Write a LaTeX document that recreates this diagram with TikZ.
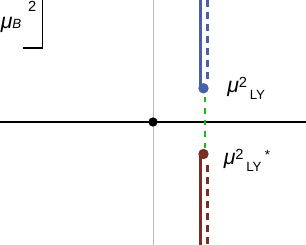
\documentclass[tikz,border=0pt]{standalone}
\usepackage{fontspec}
\setmainfont{Liberation Sans}
\usetikzlibrary{positioning}
\definecolor{lyblue}{RGB}{72,96,170}
\definecolor{lyred}{RGB}{122,46,38}
\definecolor{lygreen}{RGB}{25,185,25}
\definecolor{axisgray}{RGB}{185,185,185}
\newcommand{\bigmu}{{\fontsize{16}{18}\selectfont\itshape μ}}
\newcommand{\sqr}{\fontsize{11}{12}\selectfont 2}
\newcommand{\lysub}{\fontsize{10}{11}\selectfont LY}

\begin{document}
\begin{tikzpicture}[x=.75pt,y=-.75pt,
  dot/.style={circle,fill,inner sep=0pt,minimum size=7.8pt},
  lbl/.style={anchor=base west,inner sep=0pt},
  solidleg/.style={line width=2.5pt},
  dashleg/.style={line width=2pt,dash pattern=on 4.9pt off 4.1pt}]
\useasboundingbox (0,0) rectangle (306,245);
\coordinate (o) at (153,122);
\draw[axisgray,line width=.7pt] (o |- 0,0) -- (o |- 0,245);
\draw[line width=1.9pt] (0,122) -- (306,122);
\node[dot,minimum size=7pt] (origin) at (o) {};
\node[dot,lyblue] (ly) at (203.5,88.3) {};
\node[dot,lyred] (lys) at (203.5,154) {};
\draw[solidleg,lyblue] (200.7,0) -- (200.7,0 |- ly);
\draw[dashleg,lyblue] (207.8,0) -- (207.8,82);
\draw[solidleg,lyred] (200.7,0 |- lys) -- (200.7,245);
\draw[dashleg,lyred] (207.8,165) -- (207.8,245);
\draw[lygreen,line width=2.2pt,dash pattern=on 4.1pt off 4.5pt] (205,97) -- (205,148);
\node[lbl] (lylabel) at (227,93) {\bigmu\raisebox{3.75pt}{\sqr}\hspace{2pt}\raisebox{-5.25pt}{\lysub}};
\node[lbl] (lyslabel) at (223.5,165) {\bigmu\raisebox{3.75pt}{\sqr}\hspace{2pt}\raisebox{-5.25pt}{\lysub}\hspace{2.5pt}\raisebox{4.3pt}{\fontsize{10}{11}\selectfont *}};
\node[lbl] (unit) at (0.5,29) {\bigmu{\fontsize{10}{11}\selectfont\itshape B}\hspace{5pt}\raisebox{12.75pt}{\sqr}};
\draw[line width=.9pt] (23,48) -- (42.5,48) -- (42.5,0);
\end{tikzpicture}
\end{document}
